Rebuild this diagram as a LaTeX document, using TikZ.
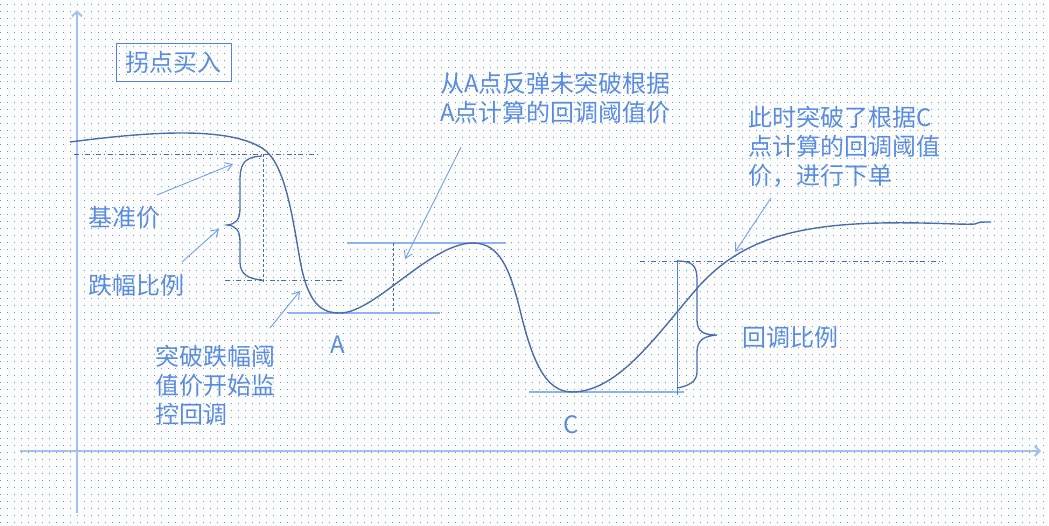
\documentclass[tikz,border=0pt]{standalone}
\usepackage{fontspec}
\newfontfamily\cjk{Noto Sans CJK SC}
\usetikzlibrary{arrows.meta}
\definecolor{dotc}{RGB}{75,145,240}
\definecolor{axisc}{RGB}{160,192,242}
\definecolor{txtc}{RGB}{88,140,228}
\definecolor{curvec}{RGB}{72,108,175}
\definecolor{arrc}{RGB}{110,158,236}
\definecolor{levc}{RGB}{140,180,242}
\definecolor{vlinec}{RGB}{80,130,220}
\begin{document}
\begin{tikzpicture}[x=1pt,y=-1pt,
  lbl/.style={font=\cjk\fontsize{24}{29}\selectfont, text=txtc, inner sep=0pt, align=left},
  axisline/.style={axisc, line width=2pt, -{Straight Barb[length=5pt,width=10pt]}},
  callout/.style={arrc, line width=0.9pt, -{Straight Barb[length=7pt,width=9pt]}},
  curveline/.style={curvec, line width=1.4pt},
  dashdot/.style={curvec, line width=0.9pt, dash pattern=on 5pt off 2.5pt on 1.2pt off 2.5pt},
  vdash/.style={curvec, line width=0.9pt, dash pattern=on 3pt off 2pt},
  level/.style={levc, line width=2pt},
  bracestyle/.style={curvec, line width=1.3pt}]
\useasboundingbox (0,0) rectangle (1049,525);
\fill[white] (0,0) rectangle (1049,525);
% dotted grid background
\foreach \k in {0,...,74}
  \draw[dotc, line width=1.4pt, dash pattern=on 1.4pt off 5.6pt] ({0},{4.3+7*\k}) -- ({1049},{4.3+7*\k});

% axes
\coordinate (yb) at (77,513);
\coordinate (yt) at (77,10);
\coordinate (xl) at (20,451);
\coordinate (xr) at (1041,451);
\draw[axisline] (yb) -- (yt);
\draw[axisline] (xl) -- (xr);

% title
\node[lbl, draw=vlinec, line width=1pt, fill=white, fill opacity=0, text opacity=1, minimum width=115pt, minimum height=38pt] (title) at (173.5,62) {拐点买入};

% level lines
\coordinate (a1) at (74,154);  \coordinate (a2) at (320,154);
\draw[dashdot] (a1) -- (a2);
\coordinate (b1) at (225,280); \coordinate (b2) at (342,280);
\draw[dashdot] (b1) -- (b2);
\coordinate (v1t) at (263,154); \coordinate (v1b) at (263,282);
\draw[vdash] (v1t) -- (v1b);

\coordinate (la1) at (288,313); \coordinate (la2) at (440,313);
\draw[level] (la1) -- (la2);
\coordinate (lp1) at (347,243); \coordinate (lp2) at (506,243);
\draw[level] (lp1) -- (lp2);
\coordinate (v2t) at (393,243); \coordinate (v2b) at (393,312);
\draw[vdash] (v2t) -- (v2b);

\coordinate (lc1) at (529,392); \coordinate (lc2) at (684,392);
\draw[level] (lc1) -- (lc2);
\coordinate (v3t) at (677,260); \coordinate (v3b) at (677,395);
\draw[vlinec, line width=1pt] (v3t) -- (v3b);
\coordinate (d1) at (640,261); \coordinate (d2) at (943,261);
\draw[dashdot] (d1) -- (d2);

% braces
\draw[bracestyle] (262,156) .. controls (242,157) and (240,166) .. (240,182) -- (240,208)
  .. controls (240,220) and (236,224) .. (227,225)
  .. controls (236,226) and (240,230) .. (240,242) -- (240,262)
  .. controls (240,274) and (248,279) .. (262,280);
\draw[bracestyle] (677,261) .. controls (692,261) and (697,265) .. (697,280) -- (697,320)
  .. controls (697,332) and (704,335) .. (717,335)
  .. controls (704,336) and (697,340) .. (697,352) -- (697,372)
  .. controls (697,382) and (688,386) .. (677,388);

% main curve
\draw[curveline] (70,142) .. controls (140,133) and (225,125) .. (262,148)
  .. controls (285,162) and (292,215) .. (300,260)
  .. controls (308,305) and (322,313) .. (340,313)
  .. controls (375,313) and (430,243) .. (473,243)
  .. controls (500,243) and (510,270) .. (520,310)
  .. controls (532,360) and (545,392) .. (572,392)
  .. controls (620,392) and (660,330) .. (700,285)
  .. controls (740,242) and (790,225) .. (880,223)
  .. controls (930,222) and (960,225) .. (975,224)
  .. controls (980,222) .. (991,222);

% labels
\node[lbl, anchor=west] (jz) at (88,217) {基准价};
\node[lbl, anchor=west] (dfbl) at (88,285) {跌幅比例};
\node[lbl, anchor=west] (tp) at (155,385) {突破跌幅阈\\值价开始监\\控回调};
\node[lbl, anchor=west] (fa) at (440,97.5) {从A点反弹未突破根据\\A点计算的回调阈值价};
\node[lbl, anchor=west] (cs) at (748,147) {此时突破了根据C\\点计算的回调阈值\\价，进行下单};
\node[lbl, anchor=west] (hd) at (742,337) {回调比例};
\node[lbl] (A) at (338,345) {A};
\node[lbl] (C) at (571,425) {C};

% callout arrows
\coordinate (s1) at (157,195); \coordinate (e1) at (233,164);
\draw[callout] (s1) -- (e1);
\coordinate (s2) at (182,262); \coordinate (e2) at (219,229);
\draw[callout] (s2) -- (e2);
\coordinate (s3) at (270,328); \coordinate (e3) at (300,291);
\draw[callout] (s3) -- (e3);
\coordinate (s4) at (461,147); \coordinate (e4) at (405,259);
\draw[callout] (s4) -- (e4);
\coordinate (s5) at (771,198); \coordinate (e5) at (735,252);
\draw[callout] (s5) -- (e5);
\end{tikzpicture}
\end{document}
